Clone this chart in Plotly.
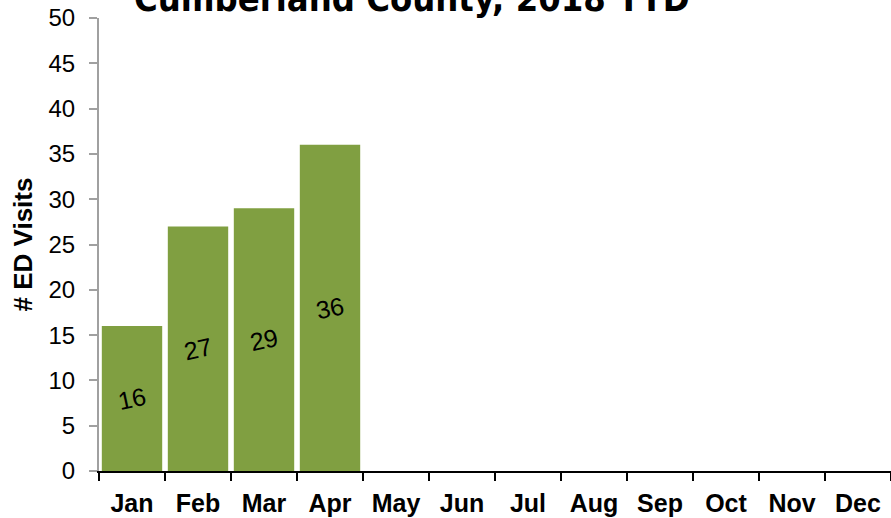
import plotly.graph_objects as go

months = ["Jan", "Feb", "Mar", "Apr", "May", "Jun", "Jul", "Aug", "Sep", "Oct", "Nov", "Dec"]
visits = [16, 27, 29, 36, None, None, None, None, None, None, None, None]
labels = ["16", "27", "29", "36", "", "", "", "", "", "", "", ""]
title_text = "Cumberland County, 2018 YTD"
y_title = "# ED Visits"

fig = go.Figure()
fig.add_trace(go.Bar(
    x=months, y=visits, text=labels,
    marker=dict(color="#809F41", line=dict(width=0)),
    textposition="inside", insidetextanchor="middle", textangle=-12,
    textfont=dict(family="Liberation Sans, Arial", size=25, color="black"),
    cliponaxis=False,
))

fig.add_annotation(
    text="<b>" + title_text + "</b>", xref="paper", yref="paper",
    x=0.395, y=0.9934, yanchor="bottom", xanchor="center", showarrow=False,
    font=dict(family="DejaVu Sans Condensed, Liberation Sans Narrow, Liberation Sans", size=36, color="black"),
)

fig.update_layout(
    width=891, height=518,
    margin=dict(l=99, r=0, t=18, b=47),
    paper_bgcolor="white", plot_bgcolor="white",
    bargap=0.085, showlegend=False,
    uniformtext=dict(mode=False),
)
fig.update_xaxes(
    type="category", tickson="boundaries", ticks="outside", ticklen=8, tickwidth=2,
    tickcolor="black", showline=True, linecolor="black", linewidth=2, automargin=False,
    showgrid=False, tickfont=dict(family="Liberation Sans, Arial", size=25, color="black"),
    ticklabelstandoff=9, tickprefix="<b>", ticksuffix="</b>",
)
fig.update_yaxes(
    range=[0, 50], dtick=5, ticks="outside", ticklen=8, tickwidth=2, tickcolor="#A0A0A0",
    showline=True, linecolor="#A0A0A0", linewidth=2, showgrid=False, zeroline=False,
    automargin=False,
    tickfont=dict(family="Liberation Sans, Arial", size=24, color="black"),
    ticklabelstandoff=9,
    title=dict(text="<b>" + y_title + "</b>", font=dict(family="Liberation Sans, Arial", size=26, color="black"), standoff=8),
)

fig.write_html("out.html", config={"displayModeBar": False},
               post_script="document.body.style.margin='0';")
